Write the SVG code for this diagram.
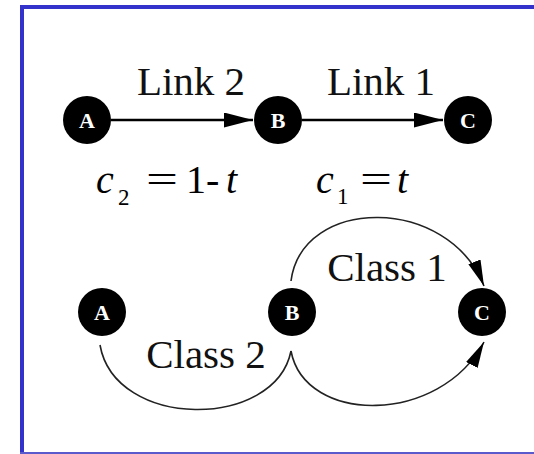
<svg xmlns="http://www.w3.org/2000/svg" width="534" height="454" viewBox="0 0 534 454">
<style>
.node{fill:#000}
.nl{font-family:"Liberation Serif","Times New Roman",serif;font-weight:bold;font-size:22px;fill:#fff;text-anchor:middle}
.lbl{font-family:"Liberation Serif","Times New Roman",serif;font-size:41px;fill:#111;text-anchor:middle}
.eq{font-family:"Liberation Serif","Times New Roman",serif;font-size:40px;fill:#000}
.it{font-style:italic}
.sub{font-size:23px}
.straight{stroke:#000;stroke-width:2.4;fill:none}
.curve{stroke:#222;stroke-width:1.6;fill:none}
</style>
<defs>
<marker id="ah" markerUnits="userSpaceOnUse" markerWidth="30" markerHeight="16" refX="29" refY="7.5" orient="auto">
<path d="M0,0 L29,7.5 L0,15 Z" fill="#000"/>
</marker>
<marker id="ah2" markerUnits="userSpaceOnUse" markerWidth="28" markerHeight="14" refX="26" refY="6.5" orient="auto">
<path d="M0,0 L26,6.5 L0,13 Z" fill="#000"/>
</marker>
</defs>
<rect width="534" height="454" fill="#fff"/>
<g id="frame">
<rect x="20" y="5" width="514" height="4" fill="#3333cc"/>
<rect x="20" y="5" width="4" height="449" fill="#3333cc"/>
<rect x="20" y="452" width="514" height="2" fill="#5a5acc"/>
</g>
<g id="connectors">
<line class="straight" x1="111" y1="120" x2="253" y2="120" marker-end="url(#ah)"/>
<line class="straight" x1="302" y1="120" x2="443" y2="120" marker-end="url(#ah)"/>
<path class="curve" d="M291,281 C302,196 448,195 484,286" marker-end="url(#ah2)"/>
<path class="curve" d="M100,345 C115,430 275,430 291,351"/>
<path class="curve" d="M291,351 C305,425 440,425 484,342" marker-end="url(#ah2)"/>
</g>
<g id="labels">
<text class="lbl" x="191" y="95">Link 2</text>
<text class="lbl" x="381" y="95">Link 1</text>
<text class="lbl" x="387" y="281">Class 1</text>
<text class="lbl" x="206" y="368">Class 2</text>
</g>
<g id="equations">
<text class="eq it" x="96" y="193">c</text>
<text class="eq sub" x="118" y="205">2</text>
<text class="eq" x="146" y="193" textLength="32" lengthAdjust="spacingAndGlyphs">=</text>
<text class="eq" x="186" y="193">1-</text>
<text class="eq it" x="226" y="193">t</text>
<text class="eq it" x="316" y="193">c</text>
<text class="eq sub" x="337" y="204">1</text>
<text class="eq" x="360" y="193" textLength="32" lengthAdjust="spacingAndGlyphs">=</text>
<text class="eq it" x="397" y="193">t</text>
</g>
<g id="node-A1"><circle class="node" cx="87" cy="120" r="24"/><text class="nl" x="87" y="127.5">A</text></g>
<g id="node-B1"><circle class="node" cx="278" cy="120" r="24"/><text class="nl" x="278" y="127.5">B</text></g>
<g id="node-C1"><circle class="node" cx="468" cy="120" r="24"/><text class="nl" x="468" y="127.5">C</text></g>
<g id="node-A2"><circle class="node" cx="102" cy="312" r="24"/><text class="nl" x="102" y="319.5">A</text></g>
<g id="node-B2"><circle class="node" cx="292" cy="312" r="24"/><text class="nl" x="292" y="319.5">B</text></g>
<g id="node-C2"><circle class="node" cx="482" cy="312" r="24"/><text class="nl" x="482" y="319.5">C</text></g>
</svg>
